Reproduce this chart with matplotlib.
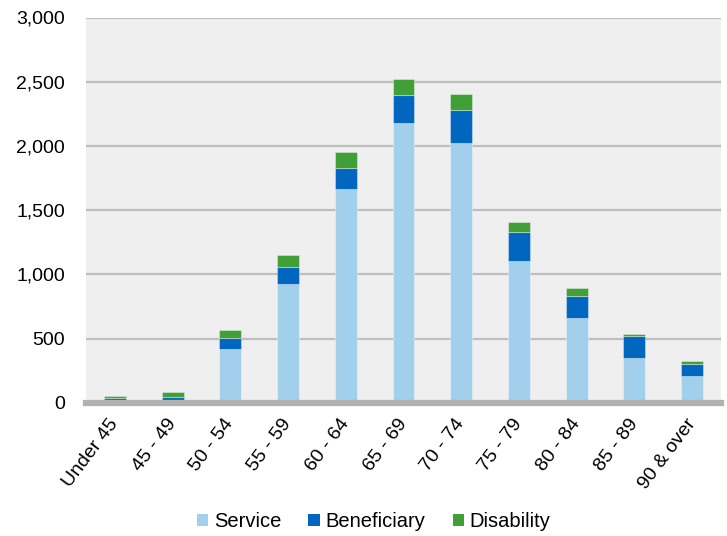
import matplotlib
matplotlib.use("Agg")
import matplotlib.pyplot as plt
import numpy as np
from matplotlib.patches import Patch

plt.rcParams['font.family'] = ['Liberation Sans', 'DejaVu Sans']

categories = ["Under 45", "45 - 49", "50 - 54", "55 - 59", "60 - 64", "65 - 69",
              "70 - 74", "75 - 79", "80 - 84", "85 - 89", "90 & over"]
service = [15, 8, 422, 924, 1664, 2178, 2022, 1107, 663, 349, 207]
beneficiary = [20, 40, 86, 137, 168, 215, 257, 226, 172, 172, 98]
disability = [16, 34, 59, 91, 120, 130, 127, 76, 60, 15, 19]
yticks = [0, 500, 1000, 1500, 2000, 2500, 3000]

c_serv = "#A2CFEB"
c_ben = "#0066BF"
c_dis = "#419F37"

fig = plt.figure(figsize=(7.27, 5.36), dpi=100)
ax = fig.add_axes([86/727, 1-402.8/536, (721-86)/727, (402.8-17.5)/536])
ax.set_facecolor("#EFEFEF")

x = np.arange(len(categories))
w = 0.38
s = np.array(service); b = np.array(beneficiary); d = np.array(disability)
edge = (1, 1, 1, 0.35)
ax.bar(x, s, w, color=c_serv, edgecolor=edge, linewidth=0.8, zorder=3)
ax.bar(x, b, w, bottom=s, color=c_ben, edgecolor=edge, linewidth=0.8, zorder=3)
ax.bar(x, d, w, bottom=s+b, color=c_dis, edgecolor=edge, linewidth=0.8, zorder=3)

ax.set_xlim(-0.5, len(categories)-0.5)
ax.set_ylim(0, 3000)
ax.set_yticks(yticks)
ax.set_yticklabels([f"{v:,}" for v in yticks], fontsize=14)
for v in yticks[1:]:
    ax.axhline(v, color="#BFBFBF", linewidth=1.6, zorder=1)
ax.axhline(0, color="#B1B1B1", linewidth=4.5, zorder=4, clip_on=False)

for sp in ax.spines.values():
    sp.set_visible(False)
ax.tick_params(axis='y', length=0, pad=15)
ax.tick_params(axis='x', length=0, pad=13)
ax.set_xticks(x)
ax.set_xticklabels(categories, fontsize=14, rotation=53, ha='right', va='center',
                   rotation_mode='anchor')

handles = [Patch(facecolor=c_serv, label="Service"),
           Patch(facecolor=c_ben, label="Beneficiary"),
           Patch(facecolor=c_dis, label="Disability")]
fig.legend(handles=handles, loc='center', bbox_to_anchor=(0.514, 1-521.5/536),
           ncol=3, frameon=False, fontsize=14.5, handlelength=0.55, handleheight=0.55,
           handletextpad=0.3, columnspacing=1.35)

fig.savefig("out.png", dpi=100)
